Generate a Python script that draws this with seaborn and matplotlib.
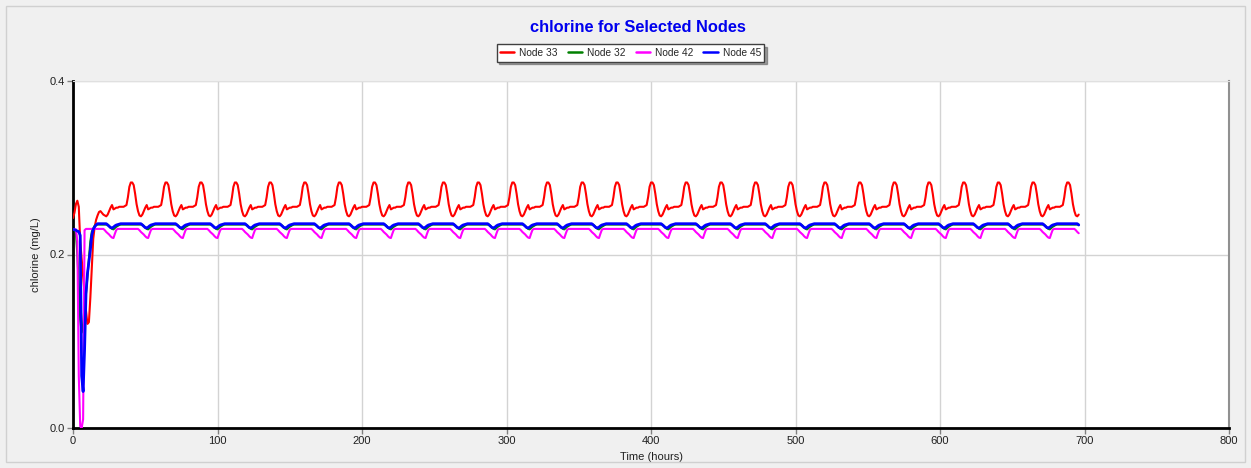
import numpy as np
import pandas as pd
import matplotlib
matplotlib.use("Agg")
import matplotlib.pyplot as plt
from matplotlib.patches import Rectangle
import seaborn as sns

# ---------------- data ----------------
series_names = ["Node 33", "Node 32", "Node 42", "Node 45"]
series_colors = ["#FF0000", "#008000", "#FF00FF", "#0000FF"]
end_hour = 696

# start-up transients (hourly values from hour 0)
red_start = [0.242, 0.248, 0.258, 0.262, 0.255, 0.215, 0.195, 0.175, 0.155, 0.135,
             0.120, 0.122, 0.150, 0.185, 0.218, 0.232, 0.240, 0.245, 0.249, 0.250,
             0.248, 0.246, 0.245]
green_start = [0.229, 0.228, 0.226, 0.200, 0.165, 0.125, 0.110, 0.120, 0.140, 0.155,
               0.175, 0.195, 0.215, 0.226, 0.230, 0.233, 0.2345]
magenta_start = [0.229, 0.229, 0.229, 0.215, 0.060, 0.002, 0.000, 0.010, 0.228, 0.2295]
blue_start = [0.229, 0.2285, 0.228, 0.227, 0.2265, 0.222, 0.060, 0.042, 0.090, 0.155,
              0.178, 0.192, 0.205, 0.222, 0.229, 0.232, 0.234]

# repeating daily pattern, indexed by hour of day 0..23
red_day = [0.246, 0.250, 0.254, 0.257, 0.252, 0.253, 0.254, 0.254, 0.255, 0.255,
           0.255, 0.255, 0.256, 0.257, 0.266, 0.278, 0.283, 0.283, 0.280, 0.270,
           0.258, 0.250, 0.245, 0.244]
green_day = [0.2345, 0.233, 0.231, 0.2295, 0.229, 0.2305, 0.232, 0.233, 0.234, 0.2345,
             0.2345, 0.2345, 0.2345, 0.2345, 0.2345, 0.2345, 0.2345, 0.2345, 0.2345, 0.2345,
             0.2345, 0.2345, 0.2345, 0.2345]
magenta_day = [0.2245, 0.223, 0.221, 0.2195, 0.219, 0.224, 0.2285, 0.2295, 0.2295, 0.2295,
               0.2295, 0.2295, 0.2295, 0.2295, 0.2295, 0.2295, 0.2295, 0.2295, 0.2295, 0.2295,
               0.2295, 0.2295, 0.228, 0.226]
blue_day = [0.234, 0.2325, 0.231, 0.2305, 0.2315, 0.233, 0.234, 0.2345, 0.235, 0.2355,
            0.2355, 0.2355, 0.2355, 0.2355, 0.2355, 0.2355, 0.2355, 0.2355, 0.2355, 0.2355,
            0.2355, 0.2355, 0.2355, 0.2355]

x_ticks = [0, 100, 200, 300, 400, 500, 600, 700, 800]
y_ticks = [0.0, 0.2, 0.4]
title_text = "chlorine for Selected Nodes"
x_label = "Time (hours)"
y_label = "chlorine (mg/L)"

hours = np.arange(0, end_hour + 1)


def build(start, day):
    vals = list(start)
    for h in range(len(start), end_hour + 1):
        vals.append(day[h % 24])
    return vals


frames = []
for name, st, dy in zip(series_names,
                        [red_start, green_start, magenta_start, blue_start],
                        [red_day, green_day, magenta_day, blue_day]):
    frames.append(pd.DataFrame({"Time": hours, "Value": build(st, dy), "Node": name}))
df = pd.concat(frames, ignore_index=True)

# ---------------- figure ----------------
sns.set_style("white")
plt.rcParams["font.family"] = ["Liberation Sans", "DejaVu Sans"]

fig = plt.figure(figsize=(12.51, 4.68), dpi=100, facecolor="#F0F0F0")
ax = fig.add_axes([73 / 1251, 1 - 428 / 468, (1229 - 73) / 1251, (428 - 81) / 468])
ax.set_facecolor("white")

palette = dict(zip(series_names, series_colors))
widths = {"Node 33": 1.5, "Node 32": 1.5, "Node 42": 1.5, "Node 45": 2.0}
for name in series_names:
    sub = df[df["Node"] == name]
    sns.lineplot(data=sub, x="Time", y="Value", ax=ax, color=palette[name],
                 lw=widths[name], label=name, legend=False,
                 estimator=None, zorder=3)

ax.set_xlim(0, 800)
ax.set_ylim(0, 0.4)
ax.set_xticks(x_ticks)
ax.set_yticks(y_ticks)
ax.set_xticklabels([str(t) for t in x_ticks])
ax.set_yticklabels([f"{t:.1f}" for t in y_ticks])
ax.tick_params(axis="both", which="both", direction="out", length=4, width=1,
               color="#808080", labelsize=8, labelcolor="#202020", pad=2,
               bottom=True, left=True)

ax.grid(True, axis="x", color="#D3D3D3", lw=1, zorder=0)
ax.grid(True, axis="y", color="#D3D3D3", lw=1, zorder=0)

for side in ["left", "bottom"]:
    ax.spines[side].set_color("black")
    ax.spines[side].set_linewidth(2)
ax.spines["right"].set_color("#909090")
ax.spines["right"].set_linewidth(1.5)
ax.spines["top"].set_color("#E0E0E0")
ax.spines["top"].set_linewidth(0.8)

ax.set_xlabel(x_label, fontsize=8, color="#202020", labelpad=4)
ax.set_ylabel(y_label, fontsize=8, color="#202020", labelpad=6)

fig.text(0.51, 1 - 27 / 468, title_text, ha="center", va="center", fontsize=11.8,
         fontweight="bold", color="#0000EE")

handles, labels = ax.get_legend_handles_labels()
leg = fig.legend(handles, labels, loc="center", bbox_to_anchor=(0.504, 1 - 53 / 468),
                 ncol=4, fontsize=7.3, frameon=True, fancybox=False, shadow=True,
                 edgecolor="#404040", handlelength=1.4, handletextpad=0.5,
                 columnspacing=1.0, borderpad=0.35)
leg.get_frame().set_linewidth(1)
for line in leg.get_lines():
    line.set_linewidth(1.8)

fig.patches.append(Rectangle((0.005, 0.012), 0.99, 0.975, transform=fig.transFigure,
                             fill=False, edgecolor="#D0D0D0", lw=1))

fig.savefig("out.png", dpi=100, facecolor=fig.get_facecolor())
